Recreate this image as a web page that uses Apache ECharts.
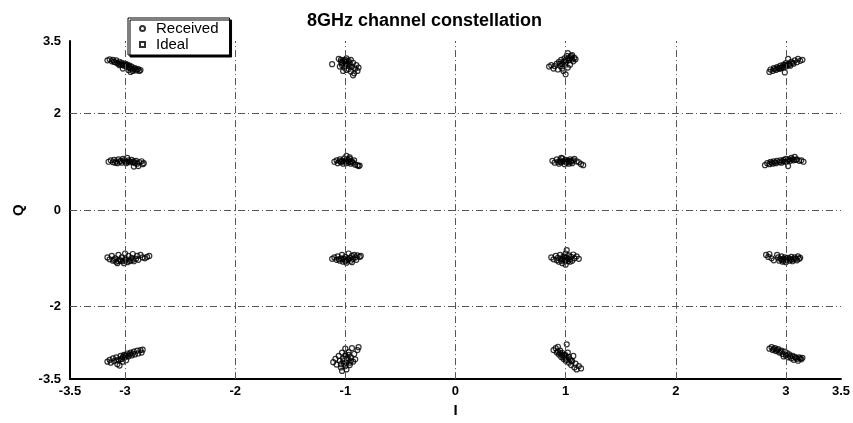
<!DOCTYPE html>
<html>
<head>
<meta charset="utf-8">
<script src="https://cdn.jsdelivr.net/npm/echarts@6/dist/echarts.min.js"></script>
<style>
  html, body { margin: 0; padding: 0; background: #fff; }
  #chart { width: 853px; height: 423px; }
</style>
</head>
<body>
<div id="chart"></div>
<script>
// received symbols, one list per column of the constellation
const receivedColM3 = [
  // (-3, 3)
  [-3.16,3.10],[-3.14,3.12],[-3.12,3.08],[-3.11,3.11],[-3.09,3.06],[-3.08,3.10],[-3.07,3.04],[-3.05,3.07],
  [-3.04,3.02],[-3.03,3.05],[-3.01,2.99],[-3.00,3.03],[-2.99,2.97],[-2.98,3.01],[-2.97,2.95],[-2.96,2.99],
  [-2.95,2.93],[-2.94,2.97],[-2.93,2.91],[-2.91,2.94],[-2.90,2.89],[-2.88,2.92],[-2.87,2.88],[-2.86,2.90],
  [-2.97,2.90],[-3.02,2.93],[-2.95,2.86],[-3.10,3.07],[-3.06,3.03],[-3.02,3.01],[-2.99,3.00],[-2.96,2.96],
  [-2.92,2.93],[-2.89,2.91],[-3.05,3.00],[-2.93,2.88],
  // (-3, 1)
  [-3.15,1.00],[-3.13,1.03],[-3.11,0.99],[-3.10,1.04],[-3.08,1.01],[-3.07,0.97],[-3.06,1.05],[-3.04,1.02],
  [-3.03,0.98],[-3.02,1.06],[-3.00,1.01],[-2.99,0.97],[-2.98,1.08],[-2.97,1.03],[-2.95,0.99],[-2.94,1.04],
  [-2.93,1.00],[-2.91,0.97],[-2.90,1.02],[-2.89,0.96],[-2.87,0.99],[-2.85,1.01],[-2.84,0.95],[-2.88,0.91],
  [-2.92,0.90],[-2.83,0.97],[-3.05,1.00],[-3.01,1.03],[-2.98,0.99],[-2.96,1.01],[-3.09,0.98],[-2.92,1.01],
  // (-3, -1)
  [-3.16,-0.98],[-3.14,-1.02],[-3.12,-0.95],[-3.11,-1.05],[-3.09,-1.00],[-3.08,-1.07],[-3.06,-0.93],[-3.05,-1.03],
  [-3.03,-0.98],[-3.02,-1.06],[-3.00,-0.90],[-2.99,-1.02],[-2.98,-1.08],[-2.97,-0.95],[-2.95,-1.04],[-2.94,-0.99],
  [-2.93,-0.91],[-2.92,-1.06],[-2.90,-1.01],[-2.89,-0.95],[-2.88,-1.03],[-2.86,-0.93],[-2.84,-0.98],[-2.82,-1.00],
  [-2.80,-0.97],[-2.78,-0.95],[-3.01,-1.10],[-3.07,-1.10],[-3.04,-1.05],[-3.00,-1.04],[-2.96,-1.06],[-3.10,-1.03],
  [-2.93,-1.03],[-3.06,-1.06],
  // (-3, -3)
  [-3.16,-3.14],[-3.14,-3.10],[-3.13,-3.16],[-3.11,-3.07],[-3.10,-3.13],[-3.08,-3.05],[-3.07,-3.19],[-3.06,-3.10],
  [-3.04,-3.02],[-3.03,-3.08],[-3.02,-3.14],[-3.01,-3.00],[-3.00,-3.05],[-2.99,-3.11],[-2.98,-2.97],[-2.97,-3.03],
  [-2.95,-2.95],[-2.94,-3.01],[-2.92,-2.93],[-2.91,-2.99],[-2.89,-2.91],[-2.88,-2.97],[-2.86,-2.90],[-2.85,-2.95],
  [-2.84,-2.89],[-3.05,-3.22],[-3.02,-3.04],[-2.99,-3.02],[-2.96,-2.99],[-3.04,-3.09],[-2.93,-2.97],[-3.08,-3.11]
]

const receivedColM1 = [
  // (-1, 3)
  [-1.12,3.02],[-1.06,3.13],[-1.04,3.07],[-1.03,3.00],[-1.02,3.10],[-1.01,2.95],[-1.00,3.05],[-0.99,3.14],
  [-0.98,2.99],[-0.98,3.08],[-0.97,2.92],[-0.96,3.03],[-0.95,2.87],[-0.95,3.11],[-0.94,2.97],[-0.93,3.05],
  [-0.92,2.83],[-0.91,2.93],[-0.90,3.00],[-0.89,2.88],[-0.88,2.95],[-0.99,2.90],[-1.05,2.97],[-0.93,2.79],
  [-1.02,2.88],[-1.04,3.11],[-1.01,3.08],[-0.99,3.03],[-1.03,3.04],[-0.97,3.09],[-0.96,2.98],[-1.00,3.11],
  // (-1, 1)
  [-1.10,1.00],[-1.08,1.03],[-1.07,0.97],[-1.05,1.05],[-1.04,0.99],[-1.03,1.02],[-1.02,0.96],[-1.01,1.07],
  [-1.00,1.01],[-0.99,1.12],[-0.99,0.97],[-0.98,1.04],[-0.97,0.99],[-0.96,1.06],[-0.95,0.96],[-0.94,1.01],
  [-0.93,0.98],[-0.92,1.03],[-0.91,0.94],[-0.89,0.93],[-0.88,0.91],[-0.87,0.92],[-0.96,1.09],[-1.02,1.01],
  [-0.99,1.02],[-0.97,1.03],[-1.05,1.01],[-0.95,1.00],
  // (-1, -1)
  [-1.12,-1.01],[-1.10,-0.98],[-1.08,-1.03],[-1.07,-0.96],[-1.05,-1.05],[-1.04,-1.00],[-1.03,-0.93],[-1.02,-1.07],
  [-1.01,-1.02],[-1.00,-0.97],[-0.99,-1.09],[-0.98,-1.03],[-0.97,-0.90],[-0.96,-0.99],[-0.95,-1.05],[-0.94,-0.95],
  [-0.93,-1.01],[-0.92,-0.93],[-0.91,-0.98],[-0.90,-1.03],[-0.89,-0.94],[-0.87,-0.97],[-0.86,-0.95],[-0.94,-1.08],
  [-1.02,-1.01],[-0.99,-1.04],[-0.97,-1.02],[-1.06,-1.02],[-1.00,-1.06],
  // (-1, -3)
  [-1.11,-3.15],[-1.09,-3.08],[-1.08,-3.20],[-1.06,-3.02],[-1.05,-3.12],[-1.04,-3.26],[-1.03,-2.95],[-1.02,-3.07],
  [-1.01,-3.18],[-1.00,-2.87],[-1.00,-3.02],[-0.99,-3.30],[-0.98,-3.11],[-0.97,-2.94],[-0.96,-3.21],[-0.95,-3.05],
  [-0.94,-2.86],[-0.93,-3.14],[-0.92,-2.98],[-0.91,-3.09],[-0.89,-2.90],[-0.88,-2.84],[-1.03,-3.33],[-0.97,-3.00],
  [-1.02,-3.13],[-0.99,-3.16],[-0.98,-3.06],[-1.04,-3.19],[-0.95,-3.12],[-1.00,-3.23],[-0.96,-3.16]
]

const receivedColP1 = [
  // (1, 3)
  [0.85,2.97],[0.87,3.00],[0.89,2.93],[0.90,2.98],[0.92,3.03],[0.93,2.91],[0.94,3.07],[0.95,2.98],
  [0.96,3.11],[0.97,3.02],[0.98,2.88],[0.99,3.14],[1.00,3.06],[1.00,2.81],[1.01,3.19],[1.02,2.95],
  [1.03,3.10],[1.04,3.01],[1.05,3.16],[1.06,3.21],[1.07,3.08],[1.08,3.15],[1.09,3.12],[0.97,2.93],
  [1.02,3.25],[1.02,3.13],[1.04,3.14],[1.06,3.12],[1.00,3.10],[0.98,3.07],[1.05,3.19],[0.95,3.03],
  // (1, 1)
  [0.88,1.02],[0.90,0.98],[0.92,1.05],[0.93,1.00],[0.94,0.96],[0.95,1.03],[0.96,0.99],[0.97,1.07],
  [0.98,1.01],[0.99,0.95],[1.00,1.04],[1.01,0.98],[1.02,1.02],[1.03,0.96],[1.04,1.05],[1.05,1.00],
  [1.06,0.97],[1.07,1.03],[1.08,1.06],[1.10,1.01],[1.12,0.99],[1.14,0.95],[1.16,0.93],[0.96,1.08],
  [0.99,1.01],[1.01,1.02],[1.03,1.00],[0.95,1.00],[1.05,1.02],
  // (1, -1)
  [0.87,-0.98],[0.89,-1.02],[0.91,-0.95],[0.92,-1.04],[0.93,-0.99],[0.94,-1.07],[0.95,-0.93],[0.96,-1.01],
  [0.97,-1.10],[0.98,-0.96],[0.99,-1.04],[1.00,-0.90],[1.00,-1.13],[1.01,-0.99],[1.02,-1.06],[1.03,-0.94],
  [1.04,-1.02],[1.05,-0.97],[1.06,-1.05],[1.07,-0.92],[1.08,-1.00],[1.10,-0.96],[1.12,-1.01],[1.01,-0.83],
  [0.98,-1.02],[1.00,-1.05],[1.02,-1.01],[0.96,-1.05],[1.04,-1.07],[0.99,-0.98],
  // (1, -3)
  [0.89,-2.90],[0.91,-2.86],[0.92,-2.95],[0.93,-2.83],[0.94,-2.99],[0.95,-2.91],[0.96,-3.04],[0.97,-2.96],
  [0.98,-3.08],[0.99,-3.00],[1.00,-3.12],[1.01,-3.05],[1.02,-2.95],[1.03,-3.16],[1.04,-3.09],[1.05,-3.21],
  [1.06,-3.13],[1.07,-3.02],[1.08,-3.26],[1.09,-3.18],[1.10,-3.30],[1.12,-3.23],[1.14,-3.28],[1.01,-2.78],
  [0.95,-2.96],[0.97,-3.01],[0.99,-3.05],[1.01,-3.10],[1.03,-3.04],[0.93,-2.93],[1.05,-3.12]
]

const receivedColP3 = [
  // (3, 3)
  [2.85,2.86],[2.86,2.91],[2.88,2.88],[2.89,2.94],[2.91,2.90],[2.92,2.96],[2.94,2.92],[2.95,2.99],
  [2.96,2.94],[2.98,3.01],[2.99,2.96],[3.00,3.04],[3.01,2.98],[3.02,3.13],[3.03,3.03],[3.04,2.99],
  [3.05,3.07],[3.07,3.03],[3.08,3.10],[3.10,3.06],[3.11,3.13],[3.13,3.09],[3.15,3.11],[2.99,2.85],
  [2.90,2.92],[2.93,2.94],[2.97,2.97],[3.00,3.00],[3.03,3.01],[3.06,3.05],[2.95,2.95],
  // (3, 1)
  [2.81,0.93],[2.83,0.97],[2.85,0.95],[2.86,1.00],[2.88,0.96],[2.89,1.01],[2.91,0.97],[2.92,1.02],
  [2.94,0.99],[2.95,1.03],[2.96,0.98],[2.98,1.04],[2.99,1.00],[3.00,1.06],[3.01,1.01],[3.02,0.91],
  [3.03,1.05],[3.04,1.02],[3.05,1.08],[3.07,1.03],[3.08,1.10],[3.10,1.05],[3.12,1.02],[3.14,1.03],
  [3.16,1.00],[2.87,0.98],[2.90,0.99],[2.97,1.01],[3.02,1.03],[3.06,1.05],[3.09,1.04],
  // (3, -1)
  [2.82,-0.93],[2.84,-0.97],[2.85,-0.91],[2.87,-1.00],[2.89,-1.04],[2.92,-0.93],[2.93,-0.98],[2.94,-1.05],
  [2.95,-1.01],[2.96,-0.96],[2.97,-1.07],[2.98,-1.02],[2.99,-0.98],[3.00,-1.08],[3.01,-1.03],[3.02,-0.99],
  [3.03,-1.05],[3.04,-1.01],[3.05,-0.97],[3.06,-1.06],[3.07,-1.02],[3.08,-0.98],[3.10,-1.04],[3.11,-0.96],
  [3.12,-1.01],[3.13,-0.99],[2.96,-1.03],[3.00,-1.01],[3.05,-1.03],[3.09,-1.01],[2.98,-1.05],
  // (3, -3)
  [2.85,-2.87],[2.87,-2.84],[2.88,-2.90],[2.90,-2.86],[2.91,-2.92],[2.93,-2.88],[2.94,-2.95],[2.96,-2.91],
  [2.97,-2.98],[2.99,-2.93],[3.00,-3.01],[3.01,-2.96],[3.02,-3.05],[3.03,-2.99],[3.05,-3.07],[3.06,-3.02],
  [3.07,-3.10],[3.08,-3.04],[3.10,-3.08],[3.11,-3.12],[3.12,-3.05],[3.14,-3.09],[3.15,-3.06],[2.98,-3.03],
  [2.89,-2.88],[2.92,-2.90],[2.95,-2.93],[3.04,-3.03],[3.09,-3.06],[3.13,-3.07]
]

// ideal 16-QAM points
const idealI = [-3, -1, 1, 3]
const idealQ = [-3, -1, 1, 3]

// tick labels and grid lines
const xTicks = [-3.5, -3, -2, -1, 0, 1, 2, 3, 3.5]
const yTicks = [-3.5, -2, 0, 2, 3.5]
const xGrid = [-3, -2, -1, 0, 1, 2, 3]
const yGrid = [-2, 0, 2]

const received = [].concat(receivedColM3, receivedColM1, receivedColP1, receivedColP3)
const ideal = []
idealI.forEach(i => idealQ.forEach(q => ideal.push([i, q])))

const font = 'Liberation Sans, Arial, sans-serif'
const gridStyle = { color: '#555', width: 1, type: [7, 3, 1, 3] }

const chart = echarts.init(document.getElementById('chart'))

chart.setOption({
  animation: false,
  backgroundColor: '#fff',
  title: {
    text: '8GHz channel constellation',
    left: 302,
    top: 7,
    textStyle: { fontFamily: font, fontSize: 18, fontWeight: 'bold', color: '#000' }
  },
  legend: {
    orient: 'vertical',
    left: 128,
    top: 18,
    padding: [3, 11, 3, 11],
    itemGap: 1,
    itemWidth: 5,
    itemHeight: 5,
    backgroundColor: '#fff',
    borderColor: '#000',
    borderWidth: 1,
    shadowColor: '#000',
    shadowBlur: 0,
    shadowOffsetX: 2,
    shadowOffsetY: 2,
    textStyle: { fontFamily: font, fontSize: 15, color: '#000', padding: [0, 0, 0, 6] },
    data: [
      { name: 'Received', icon: 'circle' },
      { name: 'Ideal', icon: 'rect' }
    ]
  },
  grid: { left: 70, right: 11, top: 41, bottom: 43 },
  xAxis: {
    type: 'value',
    min: -3.5,
    max: 3.5,
    interval: 0.5,
    name: 'I',
    nameLocation: 'middle',
    nameGap: 22,
    nameTextStyle: { fontFamily: font, fontSize: 15, fontWeight: 'bold', color: '#000' },
    axisLine: { onZero: false, lineStyle: { color: '#000', width: 2 } },
    axisTick: { show: false },
    splitLine: { show: false },
    axisLabel: {
      margin: 6,
      fontFamily: font,
      fontSize: 13,
      fontWeight: 'bold',
      color: '#000',
      formatter: v => (xTicks.some(t => Math.abs(t - v) < 1e-6) ? String(v) : '')
    }
  },
  yAxis: {
    type: 'value',
    min: -3.5,
    max: 3.5,
    interval: 0.5,
    name: 'Q',
    nameLocation: 'middle',
    nameGap: 44,
    nameRotate: 90,
    nameTextStyle: { fontFamily: font, fontSize: 15, fontWeight: 'bold', color: '#000' },
    axisLine: { onZero: false, lineStyle: { color: '#000', width: 2 } },
    axisTick: { show: false },
    splitLine: { show: false },
    axisLabel: {
      margin: 9,
      fontFamily: font,
      fontSize: 13,
      fontWeight: 'bold',
      color: '#000',
      formatter: v => (yTicks.some(t => Math.abs(t - v) < 1e-6) ? String(v) : '')
    }
  },
  series: [
    {
      name: 'Received',
      type: 'scatter',
      symbol: 'circle',
      symbolSize: 5,
      itemStyle: { color: 'rgba(255,255,255,0)', borderColor: '#000', borderWidth: 1.2 },
      data: received,
      z: 3,
      markLine: {
        silent: true,
        symbol: 'none',
        label: { show: false },
        lineStyle: gridStyle,
        data: xGrid.map(x => ({ xAxis: x })).concat(yGrid.map(y => ({ yAxis: y })))
      }
    },
    {
      name: 'Ideal',
      type: 'scatter',
      symbol: 'rect',
      symbolSize: 4,
      itemStyle: { color: 'rgba(255,255,255,0)', borderColor: '#000', borderWidth: 1 },
      data: ideal,
      z: 2
    }
  ]
})
</script>
</body>
</html>
